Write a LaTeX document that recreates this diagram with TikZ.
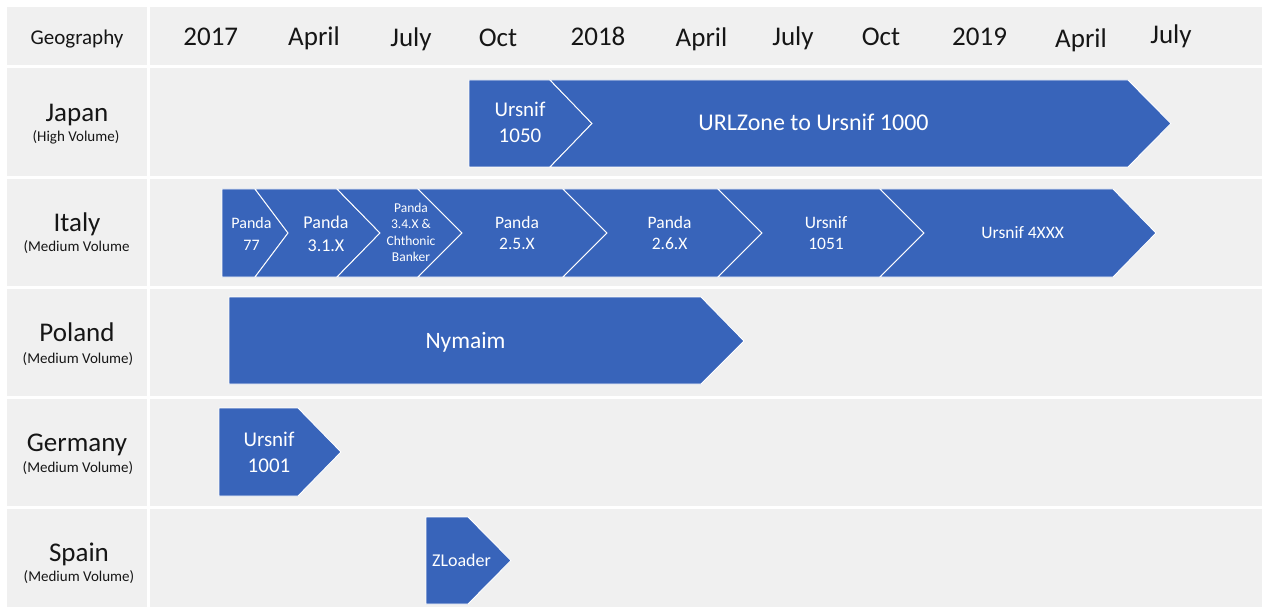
\documentclass[tikz,border=0pt]{standalone}
\usepackage{fontspec}
\setmainfont{Carlito}
\definecolor{cell}{HTML}{F0F0F0}
\definecolor{bar}{RGB}{56,100,186}
\definecolor{ink}{HTML}{161616}
\begin{document}
\begin{tikzpicture}[x=1pt,y=-1pt,
  cellbox/.style={fill=cell},
  barshape/.style={fill=bar, draw=white, line width=0.9pt, line join=miter},
  hdr/.style={anchor=base, inner sep=0pt, text=ink, font={\fontsize{27}{33}\selectfont}},
  geohdr/.style={anchor=base, inner sep=0pt, text=ink, font={\fontsize{21}{25}\selectfont}},
  country/.style={anchor=base, inner sep=0pt, text=ink, font={\fontsize{27}{33}\selectfont}},
  vol/.style={anchor=base, inner sep=0pt, text=ink, font={\fontsize{15}{18}\selectfont}},
  lbl/.style={inner sep=0pt, text=white, align=center},
]
\useasboundingbox (0,0) rectangle (1262,607);
\fill[white] (0,0) rectangle (1262,607);
% cells
\foreach \t/\b in {7.5/65.5, 68.5/176, 179/286, 289/396, 399/505.5, 508.5/607}{
  \fill[cellbox] (7,\t) rectangle (146.5,\b);
  \fill[cellbox] (149.5,\t) rectangle (1262,\b);
}
% header
\node[geohdr] (geo) at (77,45) {Geography};
\node[hdr] (m1) at (210.8,46) {2017};
\node[hdr] (m2) at (314,46) {April};
\node[hdr] (m3) at (411,46.8) {July};
\node[hdr] (m4) at (498,46.5) {Oct};
\node[hdr] (m5) at (598,46) {2018};
\node[hdr] (m6) at (701.5,46.5) {April};
\node[hdr] (m7) at (793,46) {July};
\node[hdr] (m8) at (881,46) {Oct};
\node[hdr] (m9) at (979.6,46) {2019};
\node[hdr] (m10) at (1081,47.3) {April};
\node[hdr] (m11) at (1171,44) {July};
% row labels
\node[country] (jp) at (77,121.7) {Japan};
\node[vol] (jpv) at (76,141.7) {(High Volume)};
\node[country] (it) at (77,231.7) {Italy};
\node[vol] (itv) at (76.5,251.7) {(Medium Volume};
\node[country] (pl) at (77,341.7) {Poland};
\node[vol] (plv) at (78,363) {(Medium Volume)};
\node[country] (de) at (77,451.7) {Germany};
\node[vol] (dev) at (78,472.7) {(Medium Volume)};
\node[country] (es) at (79,561.7) {Spain};
\node[vol] (esv) at (79,581.7) {(Medium Volume)};
% Japan
\draw[barshape] (469,80)--(550,80)--(592,123.5)--(550,167)--(469,167)--cycle;
\draw[barshape] (550,80)--(1128,80)--(1171,123.5)--(1128,167)--(550,167)--(592,123.5)--cycle;
\node[lbl, font={\fontsize{21}{26}\selectfont}] (u1050) at (520,122.7) {Ursnif\\1050};
\node[lbl, anchor=base, font={\fontsize{24}{29}\selectfont}] (urlz) at (813.5,131) {URLZone to Ursnif 1000};
% Italy
\draw[barshape] (222,189)--(255,189)--(288,233)--(255,277)--(222,277)--cycle;
\draw[barshape] (255,189)--(337,189)--(380,233)--(337,277)--(255,277)--(288,233)--cycle;
\draw[barshape] (337,189)--(418,189)--(462,233)--(418,277)--(337,277)--(380,233)--cycle;
\draw[barshape] (418,189)--(563,189)--(607,233)--(563,277)--(418,277)--(462,233)--cycle;
\draw[barshape] (563,189)--(718,189)--(762,233)--(718,277)--(563,277)--(607,233)--cycle;
\draw[barshape] (718,189)--(880,189)--(924,233)--(880,277)--(718,277)--(762,233)--cycle;
\draw[barshape] (880,189)--(1113,189)--(1156,233)--(1113,277)--(880,277)--(924,233)--cycle;
\node[lbl, font={\fontsize{16}{21.7}\selectfont}] (p77) at (251.5,234.2) {Panda\\77};
\node[lbl, font={\fontsize{18}{22.7}\selectfont}] (p31) at (326,234) {Panda\\3.1.X};
\node[lbl, font={\fontsize{13.5}{16.3}\selectfont}] (p34) at (411,232.5) {Panda\\3.4.X \&\\Chthonic\\Banker};
\node[lbl, font={\fontsize{17.5}{21.7}\selectfont}] (p25) at (517,233) {Panda\\2.5.X};
\node[lbl, font={\fontsize{17.5}{21.7}\selectfont}] (p26) at (669.6,233) {Panda\\2.6.X};
\node[lbl, font={\fontsize{17.5}{21.7}\selectfont}] (u1051) at (826,233) {Ursnif\\1051};
\node[lbl, anchor=base, font={\fontsize{17.5}{21}\selectfont}] (u4xxx) at (1022.7,239) {Ursnif 4XXX};
% Poland
\draw[barshape] (229,297)--(701,297)--(744,341)--(701,384)--(229,384)--cycle;
\node[lbl, anchor=base, font={\fontsize{23.5}{28}\selectfont}] (nym) at (465.5,348.3) {Nymaim};
% Germany
\draw[barshape] (219,408)--(298,408)--(341,452)--(298,496)--(219,496)--cycle;
\node[lbl, font={\fontsize{21}{26}\selectfont}] (u1001) at (269,452.3) {Ursnif\\1001};
% Spain
\draw[barshape] (426,517)--(468,517)--(511,560.5)--(468,604)--(426,604)--cycle;
\node[lbl, anchor=base, font={\fontsize{18}{22}\selectfont}] (zl) at (461.5,566.7) {ZLoader};
\end{tikzpicture}
\end{document}
